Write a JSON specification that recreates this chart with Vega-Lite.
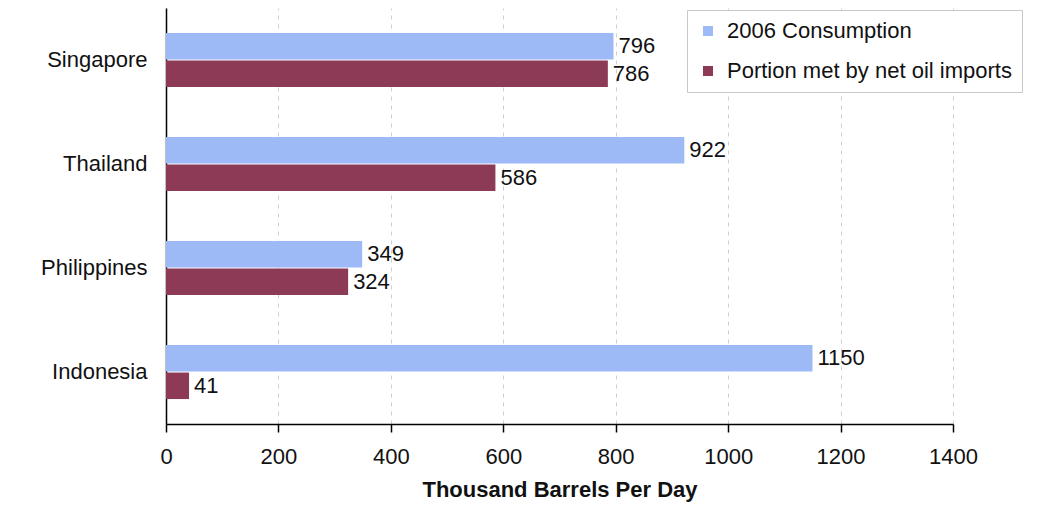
{
  "$schema": "https://vega.github.io/schema/vega-lite/v6.json",
  "autosize": "none",
  "width": 787,
  "height": 416,
  "padding": {"left": 166, "top": 8, "right": 96, "bottom": 96},
  "background": "white",
  "config": {
    "font": "Liberation Sans",
    "view": {"stroke": null},
    "axis": {"labelFont": "Liberation Sans", "labelFontSize": 22, "labelColor": "#111"}
  },
  "data": {
    "values": [
      {"country": "Singapore", "series": "2006 Consumption", "value": 796},
      {"country": "Singapore", "series": "Portion met by net oil imports", "value": 786},
      {"country": "Thailand", "series": "2006 Consumption", "value": 922},
      {"country": "Thailand", "series": "Portion met by net oil imports", "value": 586},
      {"country": "Philippines", "series": "2006 Consumption", "value": 349},
      {"country": "Philippines", "series": "Portion met by net oil imports", "value": 324},
      {"country": "Indonesia", "series": "2006 Consumption", "value": 1150},
      {"country": "Indonesia", "series": "Portion met by net oil imports", "value": 41}
    ]
  },
  "encoding": {
    "y": {
      "field": "country",
      "type": "nominal",
      "sort": ["Singapore", "Thailand", "Philippines", "Indonesia"],
      "scale": {"paddingInner": 0.48, "paddingOuter": 0.24},
      "axis": {
        "title": null,
        "ticks": false,
        "labelPadding": 19,
        "domainColor": "#000",
        "domainWidth": 1.5,
        "grid": false
      }
    },
    "yOffset": {
      "field": "series",
      "type": "nominal",
      "sort": ["2006 Consumption", "Portion met by net oil imports"],
      "scale": {"paddingInner": 0.04}
    },
    "x": {
      "field": "value",
      "type": "quantitative",
      "scale": {"domain": [0, 1400], "nice": false},
      "axis": {
        "values": [0, 200, 400, 600, 800, 1000, 1200, 1400],
        "format": "d",
        "title": "Thousand Barrels Per Day",
        "titleFont": "Liberation Sans",
        "titleFontSize": 22,
        "titleFontWeight": "bold",
        "titleColor": "#111",
        "titlePadding": 12,
        "domainColor": "#000",
        "domainWidth": 1.5,
        "tickColor": "#000",
        "tickSize": 8,
        "tickWidth": 1.5,
        "labelPadding": 14,
        "grid": true,
        "gridColor": "#cfcfcf",
        "gridDash": [4, 5],
        "labelFlush": false
      }
    }
  },
  "layer": [
    {
      "mark": {"type": "bar"},
      "encoding": {
        "color": {
          "field": "series",
          "type": "nominal",
          "sort": ["2006 Consumption", "Portion met by net oil imports"],
          "scale": {"range": ["#9db9f6", "#8c3a55"]},
          "legend": {
            "title": null,
            "orient": "none",
            "legendX": 521,
            "legendY": 2,
            "symbolType": "square",
            "symbolSize": 100,
            "symbolStrokeWidth": 0,
            "labelFont": "Liberation Sans",
            "labelFontSize": 22,
            "labelColor": "#111",
            "labelOffset": 8,
            "rowPadding": 18,
            "padding": 10,
            "strokeColor": "#c8c8c8",
            "fillColor": "white",
            "labelLimit": 400
          }
        }
      }
    },
    {
      "mark": {"type": "text", "align": "left", "baseline": "middle", "dx": 5, "fontSize": 22, "font": "Liberation Sans", "color": "#111"},
      "encoding": {
        "text": {"field": "value", "type": "quantitative"}
      }
    }
  ]
}
